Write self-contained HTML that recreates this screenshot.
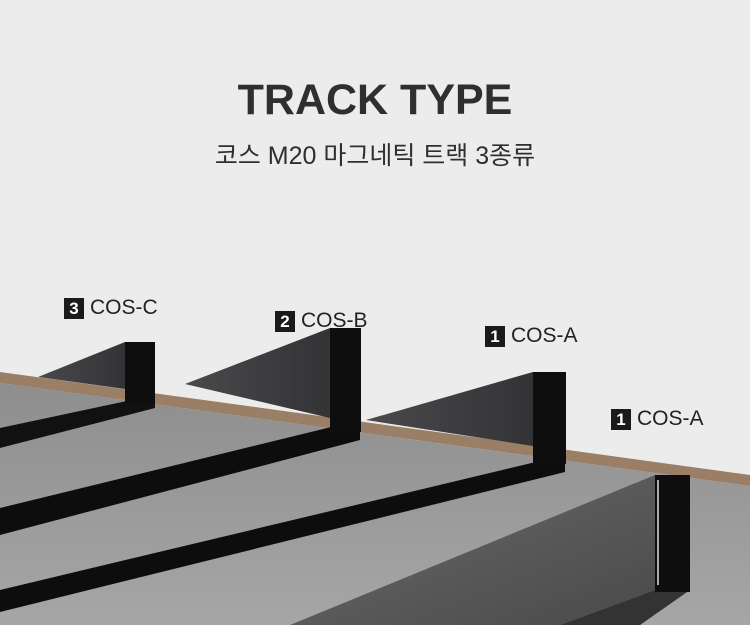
<!DOCTYPE html>
<html><head><meta charset="utf-8"><style>
body{margin:0;width:750px;height:625px;overflow:hidden;background:#ececec;font-family:"Liberation Sans","Noto Sans CJK KR",sans-serif}
.t{position:absolute;left:0;width:750px;text-align:center;color:#2f2f2f}
.lb{position:absolute;font-size:21px;color:#222;display:flex;align-items:center;gap:6px}
.lb b{display:inline-block;width:20px;height:21px;background:#1a1a1a;color:#fff;font-size:17px;text-align:center;line-height:21px;font-weight:bold}
</style></head><body>
<svg width="750" height="625" style="position:absolute;left:0;top:0">
<defs>
<linearGradient id="fl" x1="0" y1="0" x2="0" y2="1"><stop offset="0" stop-color="#8e8e8e"/><stop offset="1" stop-color="#a6a6a6"/></linearGradient>
<linearGradient id="fa" x1="0" y1="0" x2="1" y2="1"><stop offset="0" stop-color="#6a6a6a"/><stop offset="1" stop-color="#4a4a4a"/></linearGradient>
<linearGradient id="tr" x1="0" y1="0" x2="1" y2="0"><stop offset="0" stop-color="#4a4a4d"/><stop offset="1" stop-color="#333336"/></linearGradient>
</defs>
<polygon points="0,372 750,475 750,486 0,383" fill="#9a7e66"/>
<polygon points="0,383 750,486 750,625 0,625" fill="url(#fl)"/>
<!-- track C -->
<polygon points="38,377 125,342 125,389" fill="url(#tr)"/>
<polygon points="0,428 155,395 155,408 0,448" fill="#111"/>
<rect x="125" y="342" width="30" height="62" fill="#0e0e0e"/>
<!-- track B -->
<polygon points="185,384 330,328 330,418" fill="url(#tr)"/>
<polygon points="0,508 360,420 360,440 0,535" fill="#0d0d0d"/>
<rect x="330" y="328" width="31" height="104" fill="#0e0e0e"/>
<!-- track A back -->
<polygon points="366,420 533,372 533,446" fill="url(#tr)"/>
<polygon points="0,590 565,455 565,472 0,612" fill="#0d0d0d"/>
<rect x="533" y="372" width="33" height="92" fill="#0e0e0e"/>
<!-- track A front -->
<polygon points="290,625 655,475 655,590 560,625" fill="url(#fa)"/>
<polygon points="560,625 655,590 690,590 640,625" fill="#333"/>
<rect x="655" y="475" width="35" height="117" fill="#0e0e0e"/>
<polyline points="658,480 658,585" stroke="#ddd" stroke-width="1.5" fill="none"/>
</svg>
<div class="t" style="top:76px;font-size:43px;font-weight:bold;letter-spacing:0px">TRACK TYPE</div>
<div class="t" style="top:136px;font-size:25px">코스 M20 마그네틱 트랙 3종류</div>
<div class="lb" style="left:64px;top:296px"><b>3</b>COS-C</div>
<div class="lb" style="left:275px;top:309px"><b>2</b>COS-B</div>
<div class="lb" style="left:485px;top:324px"><b>1</b>COS-A</div>
<div class="lb" style="left:611px;top:407px"><b>1</b>COS-A</div>
</body></html>
